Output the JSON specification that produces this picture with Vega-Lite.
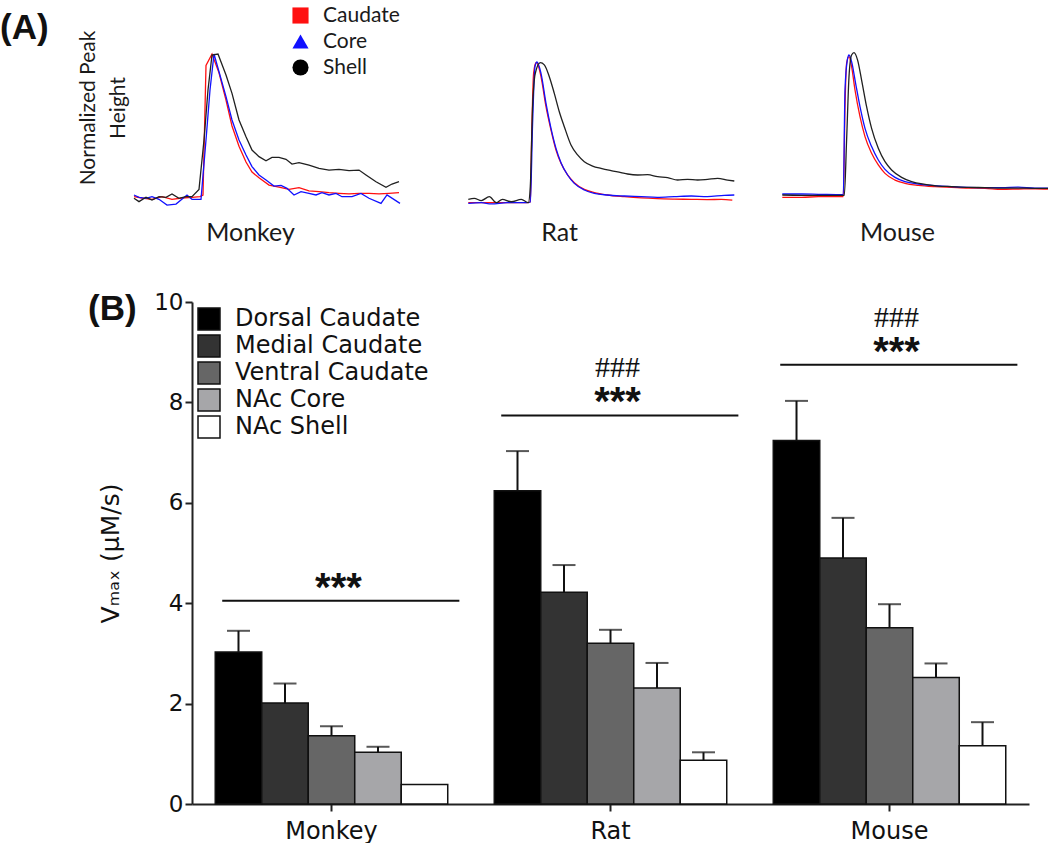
{
  "$schema": "https://vega.github.io/schema/vega-lite/v6.json",
  "background": "white",
  "padding": {"left": 0, "top": 5, "right": 0, "bottom": 0},
  "title": {"text": "(A)", "anchor": "start", "frame": "bounds", "font": "Liberation Sans", "fontSize": 35, "fontWeight": "bold", "color": "#111111", "offset": -41, "dx": -77},
  "datasets": {
    "traces": [
      {"species":"Monkey","region":"Caudate","t":0,"y":0.01},{"species":"Monkey","region":"Caudate","t":8,"y":0},{"species":"Monkey","region":"Caudate","t":18,"y":-0.01},{"species":"Monkey","region":"Caudate","t":28,"y":0.01},{"species":"Monkey","region":"Caudate","t":38,"y":-0.01},{"species":"Monkey","region":"Caudate","t":48,"y":0},{"species":"Monkey","region":"Caudate","t":58,"y":0.005},{"species":"Monkey","region":"Caudate","t":66,"y":0.01},{"species":"Monkey","region":"Caudate","t":69,"y":0.02},{"species":"Monkey","region":"Caudate","t":72,"y":0.92},{"species":"Monkey","region":"Caudate","t":78,"y":1.0},{"species":"Monkey","region":"Caudate","t":85,"y":0.87},{"species":"Monkey","region":"Caudate","t":92,"y":0.68},{"species":"Monkey","region":"Caudate","t":98,"y":0.5},{"species":"Monkey","region":"Caudate","t":105,"y":0.36},{"species":"Monkey","region":"Caudate","t":112,"y":0.25},{"species":"Monkey","region":"Caudate","t":118,"y":0.18},{"species":"Monkey","region":"Caudate","t":125,"y":0.14},{"species":"Monkey","region":"Caudate","t":135,"y":0.09},{"species":"Monkey","region":"Caudate","t":145,"y":0.075},{"species":"Monkey","region":"Caudate","t":155,"y":0.06},{"species":"Monkey","region":"Caudate","t":165,"y":0.072},{"species":"Monkey","region":"Caudate","t":175,"y":0.05},{"species":"Monkey","region":"Caudate","t":185,"y":0.045},{"species":"Monkey","region":"Caudate","t":195,"y":0.037},{"species":"Monkey","region":"Caudate","t":205,"y":0.032},{"species":"Monkey","region":"Caudate","t":215,"y":0.028},{"species":"Monkey","region":"Caudate","t":225,"y":0.032},{"species":"Monkey","region":"Caudate","t":235,"y":0.032},{"species":"Monkey","region":"Caudate","t":245,"y":0.028},{"species":"Monkey","region":"Caudate","t":255,"y":0.032},{"species":"Monkey","region":"Caudate","t":265,"y":0.037},
      {"species":"Monkey","region":"Core","t":0,"y":0.021},{"species":"Monkey","region":"Core","t":5,"y":0.005},{"species":"Monkey","region":"Core","t":12,"y":-0.002},{"species":"Monkey","region":"Core","t":18,"y":0.009},{"species":"Monkey","region":"Core","t":25,"y":-0.009},{"species":"Monkey","region":"Core","t":33,"y":-0.049},{"species":"Monkey","region":"Core","t":42,"y":-0.042},{"species":"Monkey","region":"Core","t":53,"y":0.021},{"species":"Monkey","region":"Core","t":58,"y":-0.009},{"species":"Monkey","region":"Core","t":67,"y":-0.009},{"species":"Monkey","region":"Core","t":72,"y":0.403},{"species":"Monkey","region":"Core","t":76,"y":0.75},{"species":"Monkey","region":"Core","t":80,"y":1.0},{"species":"Monkey","region":"Core","t":85,"y":0.877},{"species":"Monkey","region":"Core","t":92,"y":0.704},{"species":"Monkey","region":"Core","t":98,"y":0.542},{"species":"Monkey","region":"Core","t":105,"y":0.403},{"species":"Monkey","region":"Core","t":112,"y":0.299},{"species":"Monkey","region":"Core","t":118,"y":0.218},{"species":"Monkey","region":"Core","t":125,"y":0.16},{"species":"Monkey","region":"Core","t":132,"y":0.125},{"species":"Monkey","region":"Core","t":140,"y":0.083},{"species":"Monkey","region":"Core","t":147,"y":0.088},{"species":"Monkey","region":"Core","t":153,"y":0.067},{"species":"Monkey","region":"Core","t":160,"y":0.021},{"species":"Monkey","region":"Core","t":167,"y":0.044},{"species":"Monkey","region":"Core","t":175,"y":0.032},{"species":"Monkey","region":"Core","t":182,"y":0.021},{"species":"Monkey","region":"Core","t":188,"y":0.037},{"species":"Monkey","region":"Core","t":195,"y":0.021},{"species":"Monkey","region":"Core","t":202,"y":0.032},{"species":"Monkey","region":"Core","t":208,"y":0.009},{"species":"Monkey","region":"Core","t":218,"y":0.009},{"species":"Monkey","region":"Core","t":227,"y":0.032},{"species":"Monkey","region":"Core","t":235,"y":-0.002},{"species":"Monkey","region":"Core","t":247,"y":-0.037},{"species":"Monkey","region":"Core","t":253,"y":0.021},{"species":"Monkey","region":"Core","t":266,"y":-0.037},
      {"species":"Monkey","region":"Shell","t":0,"y":-0.002},{"species":"Monkey","region":"Shell","t":5,"y":-0.025},{"species":"Monkey","region":"Shell","t":12,"y":0.005},{"species":"Monkey","region":"Shell","t":18,"y":-0.014},{"species":"Monkey","region":"Shell","t":25,"y":0.009},{"species":"Monkey","region":"Shell","t":32,"y":0.005},{"species":"Monkey","region":"Shell","t":38,"y":0.028},{"species":"Monkey","region":"Shell","t":45,"y":-0.002},{"species":"Monkey","region":"Shell","t":52,"y":0.009},{"species":"Monkey","region":"Shell","t":58,"y":0.009},{"species":"Monkey","region":"Shell","t":65,"y":0.06},{"species":"Monkey","region":"Shell","t":70,"y":0.403},{"species":"Monkey","region":"Shell","t":74,"y":0.75},{"species":"Monkey","region":"Shell","t":78,"y":0.993},{"species":"Monkey","region":"Shell","t":84,"y":1.0},{"species":"Monkey","region":"Shell","t":92,"y":0.854},{"species":"Monkey","region":"Shell","t":98,"y":0.727},{"species":"Monkey","region":"Shell","t":105,"y":0.542},{"species":"Monkey","region":"Shell","t":112,"y":0.426},{"species":"Monkey","region":"Shell","t":118,"y":0.333},{"species":"Monkey","region":"Shell","t":125,"y":0.287},{"species":"Monkey","region":"Shell","t":132,"y":0.259},{"species":"Monkey","region":"Shell","t":138,"y":0.282},{"species":"Monkey","region":"Shell","t":145,"y":0.282},{"species":"Monkey","region":"Shell","t":152,"y":0.269},{"species":"Monkey","region":"Shell","t":158,"y":0.236},{"species":"Monkey","region":"Shell","t":165,"y":0.245},{"species":"Monkey","region":"Shell","t":175,"y":0.229},{"species":"Monkey","region":"Shell","t":185,"y":0.206},{"species":"Monkey","region":"Shell","t":195,"y":0.194},{"species":"Monkey","region":"Shell","t":205,"y":0.199},{"species":"Monkey","region":"Shell","t":215,"y":0.19},{"species":"Monkey","region":"Shell","t":225,"y":0.194},{"species":"Monkey","region":"Shell","t":232,"y":0.16},{"species":"Monkey","region":"Shell","t":242,"y":0.113},{"species":"Monkey","region":"Shell","t":252,"y":0.074},{"species":"Monkey","region":"Shell","t":258,"y":0.097},{"species":"Monkey","region":"Shell","t":265,"y":0.113},
      {"species":"Rat","region":"Caudate","t":0,"y":-0.005},{"species":"Rat","region":"Caudate","t":13,"y":-0.005},{"species":"Rat","region":"Caudate","t":29,"y":-0.005},{"species":"Rat","region":"Caudate","t":46,"y":-0.005},{"species":"Rat","region":"Caudate","t":59,"y":-0.005},{"species":"Rat","region":"Caudate","t":62,"y":0},{"species":"Rat","region":"Caudate","t":63.3,"y":0.443},{"species":"Rat","region":"Caudate","t":65.3,"y":0.919},{"species":"Rat","region":"Caudate","t":67.7,"y":0.995},{"species":"Rat","region":"Caudate","t":69.3,"y":0.986},{"species":"Rat","region":"Caudate","t":72.7,"y":0.895},{"species":"Rat","region":"Caudate","t":77.7,"y":0.681},{"species":"Rat","region":"Caudate","t":82.7,"y":0.514},{"species":"Rat","region":"Caudate","t":87.7,"y":0.371},{"species":"Rat","region":"Caudate","t":92.7,"y":0.276},{"species":"Rat","region":"Caudate","t":99.3,"y":0.193},{"species":"Rat","region":"Caudate","t":106,"y":0.138},{"species":"Rat","region":"Caudate","t":116,"y":0.09},{"species":"Rat","region":"Caudate","t":126,"y":0.067},{"species":"Rat","region":"Caudate","t":139,"y":0.05},{"species":"Rat","region":"Caudate","t":156,"y":0.038},{"species":"Rat","region":"Caudate","t":173,"y":0.029},{"species":"Rat","region":"Caudate","t":189,"y":0.024},{"species":"Rat","region":"Caudate","t":206,"y":0.021},{"species":"Rat","region":"Caudate","t":223,"y":0.019},{"species":"Rat","region":"Caudate","t":239,"y":0.017},{"species":"Rat","region":"Caudate","t":253,"y":0.019},{"species":"Rat","region":"Caudate","t":264,"y":0.014},
      {"species":"Rat","region":"Core","t":0,"y":-0.01},{"species":"Rat","region":"Core","t":13,"y":-0.005},{"species":"Rat","region":"Core","t":23,"y":-0.014},{"species":"Rat","region":"Core","t":39,"y":-0.005},{"species":"Rat","region":"Core","t":59,"y":-0.005},{"species":"Rat","region":"Core","t":62,"y":0},{"species":"Rat","region":"Core","t":64.3,"y":0.562},{"species":"Rat","region":"Core","t":66.7,"y":0.967},{"species":"Rat","region":"Core","t":68.7,"y":1.0},{"species":"Rat","region":"Core","t":72.7,"y":0.919},{"species":"Rat","region":"Core","t":77.7,"y":0.705},{"species":"Rat","region":"Core","t":82.7,"y":0.526},{"species":"Rat","region":"Core","t":87.7,"y":0.383},{"species":"Rat","region":"Core","t":92.7,"y":0.281},{"species":"Rat","region":"Core","t":99.3,"y":0.193},{"species":"Rat","region":"Core","t":106,"y":0.133},{"species":"Rat","region":"Core","t":116,"y":0.086},{"species":"Rat","region":"Core","t":126,"y":0.062},{"species":"Rat","region":"Core","t":139,"y":0.05},{"species":"Rat","region":"Core","t":156,"y":0.043},{"species":"Rat","region":"Core","t":173,"y":0.038},{"species":"Rat","region":"Core","t":189,"y":0.033},{"species":"Rat","region":"Core","t":206,"y":0.038},{"species":"Rat","region":"Core","t":223,"y":0.043},{"species":"Rat","region":"Core","t":239,"y":0.038},{"species":"Rat","region":"Core","t":256,"y":0.048},{"species":"Rat","region":"Core","t":266,"y":0.05},
      {"species":"Rat","region":"Shell","t":0,"y":0.019},{"species":"Rat","region":"Shell","t":6,"y":0.026},{"species":"Rat","region":"Shell","t":13,"y":0.01},{"species":"Rat","region":"Shell","t":21,"y":0.038},{"species":"Rat","region":"Shell","t":28,"y":-0.005},{"species":"Rat","region":"Shell","t":34,"y":0.019},{"species":"Rat","region":"Shell","t":43,"y":0.002},{"species":"Rat","region":"Shell","t":53,"y":0.019},{"species":"Rat","region":"Shell","t":60,"y":-0.005},{"species":"Rat","region":"Shell","t":62,"y":0.11},{"species":"Rat","region":"Shell","t":64.3,"y":0.681},{"species":"Rat","region":"Shell","t":67,"y":0.919},{"species":"Rat","region":"Shell","t":72,"y":0.995},{"species":"Rat","region":"Shell","t":76,"y":0.979},{"species":"Rat","region":"Shell","t":81,"y":0.895},{"species":"Rat","region":"Shell","t":86,"y":0.776},{"species":"Rat","region":"Shell","t":91,"y":0.645},{"species":"Rat","region":"Shell","t":96,"y":0.538},{"species":"Rat","region":"Shell","t":102.7,"y":0.407},{"species":"Rat","region":"Shell","t":109.3,"y":0.336},{"species":"Rat","region":"Shell","t":116,"y":0.288},{"species":"Rat","region":"Shell","t":124.3,"y":0.257},{"species":"Rat","region":"Shell","t":132.7,"y":0.24},{"species":"Rat","region":"Shell","t":142.7,"y":0.224},{"species":"Rat","region":"Shell","t":152.7,"y":0.21},{"species":"Rat","region":"Shell","t":159.3,"y":0.2},{"species":"Rat","region":"Shell","t":169.3,"y":0.193},{"species":"Rat","region":"Shell","t":179.3,"y":0.195},{"species":"Rat","region":"Shell","t":189.3,"y":0.181},{"species":"Rat","region":"Shell","t":199.3,"y":0.174},{"species":"Rat","region":"Shell","t":209.3,"y":0.157},{"species":"Rat","region":"Shell","t":219.3,"y":0.162},{"species":"Rat","region":"Shell","t":229.3,"y":0.157},{"species":"Rat","region":"Shell","t":239.3,"y":0.162},{"species":"Rat","region":"Shell","t":249.3,"y":0.169},{"species":"Rat","region":"Shell","t":259.3,"y":0.157},{"species":"Rat","region":"Shell","t":266,"y":0.15},
      {"species":"Mouse","region":"Caudate","t":0,"y":-0.016},{"species":"Mouse","region":"Caudate","t":19.3,"y":-0.016},{"species":"Mouse","region":"Caudate","t":36,"y":-0.012},{"species":"Mouse","region":"Caudate","t":61,"y":-0.012},{"species":"Mouse","region":"Caudate","t":62.7,"y":0.621},{"species":"Mouse","region":"Caudate","t":64.3,"y":0.925},{"species":"Mouse","region":"Caudate","t":66.7,"y":0.972},{"species":"Mouse","region":"Caudate","t":69.3,"y":0.902},{"species":"Mouse","region":"Caudate","t":72.7,"y":0.738},{"species":"Mouse","region":"Caudate","t":77.7,"y":0.55},{"species":"Mouse","region":"Caudate","t":82.7,"y":0.41},{"species":"Mouse","region":"Caudate","t":89.3,"y":0.293},{"species":"Mouse","region":"Caudate","t":96,"y":0.211},{"species":"Mouse","region":"Caudate","t":102.7,"y":0.152},{"species":"Mouse","region":"Caudate","t":112.7,"y":0.105},{"species":"Mouse","region":"Caudate","t":122.7,"y":0.082},{"species":"Mouse","region":"Caudate","t":136,"y":0.068},{"species":"Mouse","region":"Caudate","t":152.7,"y":0.059},{"species":"Mouse","region":"Caudate","t":169.3,"y":0.054},{"species":"Mouse","region":"Caudate","t":186,"y":0.049},{"species":"Mouse","region":"Caudate","t":202.7,"y":0.047},{"species":"Mouse","region":"Caudate","t":219.3,"y":0.04},{"species":"Mouse","region":"Caudate","t":236,"y":0.042},{"species":"Mouse","region":"Caudate","t":252.7,"y":0.044},{"species":"Mouse","region":"Caudate","t":266,"y":0.042},
      {"species":"Mouse","region":"Core","t":0,"y":0.007},{"species":"Mouse","region":"Core","t":19.3,"y":0.007},{"species":"Mouse","region":"Core","t":36,"y":0.005},{"species":"Mouse","region":"Core","t":61,"y":0.002},{"species":"Mouse","region":"Core","t":62.7,"y":0.738},{"species":"Mouse","region":"Core","t":65,"y":0.948},{"species":"Mouse","region":"Core","t":66.7,"y":0.984},{"species":"Mouse","region":"Core","t":69.3,"y":0.937},{"species":"Mouse","region":"Core","t":73.3,"y":0.785},{"species":"Mouse","region":"Core","t":77.7,"y":0.621},{"species":"Mouse","region":"Core","t":82.7,"y":0.468},{"species":"Mouse","region":"Core","t":89.3,"y":0.34},{"species":"Mouse","region":"Core","t":96,"y":0.246},{"species":"Mouse","region":"Core","t":102.7,"y":0.18},{"species":"Mouse","region":"Core","t":112.7,"y":0.124},{"species":"Mouse","region":"Core","t":122.7,"y":0.094},{"species":"Mouse","region":"Core","t":136,"y":0.077},{"species":"Mouse","region":"Core","t":152.7,"y":0.066},{"species":"Mouse","region":"Core","t":169.3,"y":0.059},{"species":"Mouse","region":"Core","t":186,"y":0.054},{"species":"Mouse","region":"Core","t":202.7,"y":0.052},{"species":"Mouse","region":"Core","t":219.3,"y":0.052},{"species":"Mouse","region":"Core","t":236,"y":0.056},{"species":"Mouse","region":"Core","t":252.7,"y":0.049},{"species":"Mouse","region":"Core","t":266,"y":0.049},
      {"species":"Mouse","region":"Shell","t":0,"y":0},{"species":"Mouse","region":"Shell","t":19.3,"y":-0.002},{"species":"Mouse","region":"Shell","t":36,"y":-0.002},{"species":"Mouse","region":"Shell","t":62,"y":-0.002},{"species":"Mouse","region":"Shell","t":64.3,"y":0.386},{"species":"Mouse","region":"Shell","t":66.7,"y":0.831},{"species":"Mouse","region":"Shell","t":69.3,"y":0.984},{"species":"Mouse","region":"Shell","t":71.7,"y":1.0},{"species":"Mouse","region":"Shell","t":75.3,"y":0.948},{"species":"Mouse","region":"Shell","t":79.3,"y":0.808},{"species":"Mouse","region":"Shell","t":84.3,"y":0.621},{"species":"Mouse","region":"Shell","t":89.3,"y":0.468},{"species":"Mouse","region":"Shell","t":96,"y":0.328},{"species":"Mouse","region":"Shell","t":102.7,"y":0.234},{"species":"Mouse","region":"Shell","t":109.3,"y":0.176},{"species":"Mouse","region":"Shell","t":119.3,"y":0.124},{"species":"Mouse","region":"Shell","t":129.3,"y":0.094},{"species":"Mouse","region":"Shell","t":142.7,"y":0.075},{"species":"Mouse","region":"Shell","t":156,"y":0.063},{"species":"Mouse","region":"Shell","t":169.3,"y":0.059},{"species":"Mouse","region":"Shell","t":186,"y":0.054},{"species":"Mouse","region":"Shell","t":202.7,"y":0.052},{"species":"Mouse","region":"Shell","t":219.3,"y":0.049},{"species":"Mouse","region":"Shell","t":236,"y":0.049},{"species":"Mouse","region":"Shell","t":252.7,"y":0.047},{"species":"Mouse","region":"Shell","t":266,"y":0.047}
    ],
    "bars": [
      {"species":"Monkey","area":"Dorsal Caudate","value":3.03,"upper":3.45},
      {"species":"Monkey","area":"Medial Caudate","value":2.01,"upper":2.40},
      {"species":"Monkey","area":"Ventral Caudate","value":1.36,"upper":1.55},
      {"species":"Monkey","area":"NAc Core","value":1.03,"upper":1.14},
      {"species":"Monkey","area":"NAc Shell","value":0.39,"upper":null},
      {"species":"Rat","area":"Dorsal Caudate","value":6.24,"upper":7.03},
      {"species":"Rat","area":"Medial Caudate","value":4.22,"upper":4.76},
      {"species":"Rat","area":"Ventral Caudate","value":3.20,"upper":3.47},
      {"species":"Rat","area":"NAc Core","value":2.31,"upper":2.81},
      {"species":"Rat","area":"NAc Shell","value":0.87,"upper":1.03},
      {"species":"Mouse","area":"Dorsal Caudate","value":7.24,"upper":8.03},
      {"species":"Mouse","area":"Medial Caudate","value":4.90,"upper":5.70},
      {"species":"Mouse","area":"Ventral Caudate","value":3.51,"upper":3.98},
      {"species":"Mouse","area":"NAc Core","value":2.52,"upper":2.80},
      {"species":"Mouse","area":"NAc Shell","value":1.16,"upper":1.63}
    ],
    "sig": [
      {"species":"Monkey","level":4.05,"stars":"***","hash":""},
      {"species":"Rat","level":7.74,"stars":"***","hash":"###"},
      {"species":"Mouse","level":8.75,"stars":"***","hash":"###"}
    ]
  },
  "vconcat": [
    {
      "hconcat": [
        {
          "width": 208, "height": 205,
          "data": {"name": "traces"},
          "transform": [{"filter": "datum.species == 'Monkey'"}],
          "encoding": {
            "x": {"field": "t", "type": "quantitative", "scale": {"domain": [58, 266], "nice": false, "zero": false},
              "axis": {"title": "Monkey", "domain": false, "ticks": false, "labels": false, "grid": false, "titleX": 58, "titleFont": "Lato", "titleFontSize": 25, "titleFontWeight": "normal", "titleColor": "#1a1a1a", "titlePadding": 10}},
            "y": {"field": "y", "type": "quantitative", "scale": {"domain": [-0.0833, 1.3403], "nice": false, "zero": false},
              "axis": {"title": ["Normalized Peak", "Height"], "domain": false, "ticks": false, "labels": false, "grid": false, "titleFont": "Lato", "titleFontSize": 21, "titleFontWeight": "normal", "titleColor": "#1a1a1a", "titleLineHeight": 30, "titlePadding": 64}}
          },
          "layer": [
            {
              "mark": {"type": "line", "strokeWidth": 1.3, "clip": false},
              "encoding": {
                "stroke": {"field": "region", "type": "nominal", "scale": {"domain": ["Caudate", "Core", "Shell"], "range": ["#ff1010", "#1010ff", "#202020"]}, "legend": null}
              }
            },
            {
              "mark": {"type": "point", "filled": true, "opacity": 0},
              "encoding": {
                "color": {"field": "region", "type": "nominal", "scale": {"domain": ["Caudate", "Core", "Shell"], "range": ["#ff1010", "#1010ff", "#000000"]},
                  "legend": {"title": null, "orient": "top-right", "offset": 0, "labelFont": "Lato", "labelFontSize": 21, "labelColor": "#1a1a1a", "symbolSize": 260, "symbolOpacity": 1, "symbolStrokeWidth": 0, "labelOffset": 12, "rowPadding": 4}},
                "shape": {"field": "region", "type": "nominal", "scale": {"domain": ["Caudate", "Core", "Shell"], "range": ["square", "triangle-up", "circle"]},
                  "legend": {"title": null, "orient": "top-right", "offset": 0, "labelFont": "Lato", "labelFontSize": 21, "labelColor": "#1a1a1a", "symbolSize": 260, "symbolOpacity": 1, "symbolStrokeWidth": 0, "labelOffset": 12, "rowPadding": 4}}
              }
            }
          ]
        },
        {
          "width": 293, "height": 205,
          "data": {"name": "traces"},
          "transform": [{"filter": "datum.species == 'Rat'"}],
          "mark": {"type": "line", "strokeWidth": 1.3, "clip": true, "interpolate": "monotone"},
          "encoding": {
            "x": {"field": "t", "type": "quantitative", "scale": {"domain": [-22.3, 270.7], "nice": false, "zero": false},
              "axis": {"title": "Rat", "domain": false, "ticks": false, "labels": false, "grid": false, "titleX": 113, "titleFont": "Lato", "titleFontSize": 25, "titleFontWeight": "normal", "titleColor": "#1a1a1a", "titlePadding": 10}},
            "y": {"field": "y", "type": "quantitative", "scale": {"domain": [-0.0571, 1.4071], "nice": false, "zero": false}, "axis": null},
            "stroke": {"field": "region", "type": "nominal", "scale": {"domain": ["Caudate", "Core", "Shell"], "range": ["#ff1010", "#1010ff", "#202020"]}, "legend": null}
          }
        },
        {
          "width": 266, "height": 205,
          "data": {"name": "traces"},
          "transform": [{"filter": "datum.species == 'Mouse'"}],
          "mark": {"type": "line", "strokeWidth": 1.3, "clip": true, "interpolate": "monotone"},
          "encoding": {
            "x": {"field": "t", "type": "quantitative", "scale": {"domain": [-0.3, 265.7], "nice": false, "zero": false},
              "axis": {"title": "Mouse", "domain": false, "ticks": false, "labels": false, "grid": false, "titleX": 115, "titleFont": "Lato", "titleFontSize": 25, "titleFontWeight": "normal", "titleColor": "#1a1a1a", "titlePadding": 10}},
            "y": {"field": "y", "type": "quantitative", "scale": {"domain": [-0.1054, 1.3352], "nice": false, "zero": false}, "axis": null},
            "stroke": {"field": "region", "type": "nominal", "scale": {"domain": ["Caudate", "Core", "Shell"], "range": ["#ff1010", "#1010ff", "#202020"]}, "legend": null}
          }
        }
      ],
      "spacing": 43,
      "resolve": {"scale": {"color": "independent", "shape": "independent"}}
    },
    {
      "hconcat": [
        {
          "width": 837, "height": 502,
          "title": {"text": "(B)", "anchor": "start", "frame": "group", "dx": -104, "offset": -36, "font": "Liberation Sans", "fontSize": 35, "fontWeight": "bold", "color": "#111111"},
          "layer": [
            {
              "data": {"name": "bars"},
              "mark": {"type": "bar", "stroke": "#111111", "strokeWidth": 1.5},
              "encoding": {
                "x": {"field": "species", "type": "nominal", "sort": ["Monkey", "Rat", "Mouse"],
                  "scale": {"paddingInner": 0.1667, "paddingOuter": 0.0833},
                  "axis": {"title": null, "labelAngle": 0, "labelFont": "DejaVu Sans", "labelFontSize": 24, "labelColor": "#111111", "labelPadding": 8, "domainColor": "#222222", "domainWidth": 2, "tickColor": "#222222", "tickWidth": 2, "tickSize": 7}},
                "xOffset": {"field": "area", "type": "nominal", "sort": ["Dorsal Caudate", "Medial Caudate", "Ventral Caudate", "NAc Core", "NAc Shell"], "scale": {"paddingInner": 0, "paddingOuter": 0}},
                "y": {"field": "value", "type": "quantitative", "scale": {"domain": [0, 10], "nice": false},
                  "axis": {"title": "Vₘₐₓ (μM/s)", "values": [0, 2, 4, 6, 8, 10], "grid": false, "labelFont": "DejaVu Sans", "labelFontSize": 23, "labelColor": "#111111", "labelPadding": 2, "domainColor": "#222222", "domainWidth": 2, "tickColor": "#222222", "tickWidth": 2, "tickSize": 7, "titleFont": "DejaVu Sans", "titleFontSize": 25, "titleFontWeight": "normal", "titleColor": "#111111", "titlePadding": 30}},
                "color": {"field": "area", "type": "nominal", "sort": ["Dorsal Caudate", "Medial Caudate", "Ventral Caudate", "NAc Core", "NAc Shell"],
                  "scale": {"domain": ["Dorsal Caudate", "Medial Caudate", "Ventral Caudate", "NAc Core", "NAc Shell"], "range": ["#000000", "#333333", "#666666", "#a6a6a9", "#ffffff"]},
                  "legend": {"title": null, "orient": "top-left", "offset": 5, "symbolType": "square", "symbolSize": 484, "symbolStrokeColor": "#111111", "symbolStrokeWidth": 1.5, "labelFont": "DejaVu Sans", "labelFontSize": 24, "labelColor": "#111111", "labelOffset": 14, "labelLimit": 400, "rowPadding": -1}}
              }
            },
            {
              "data": {"name": "bars"},
              "transform": [{"filter": "datum.upper != null"}],
              "mark": {"type": "rule", "strokeWidth": 2, "color": "#111111"},
              "encoding": {
                "x": {"field": "species", "type": "nominal", "sort": ["Monkey", "Rat", "Mouse"]},
                "xOffset": {"field": "area", "type": "nominal", "sort": ["Dorsal Caudate", "Medial Caudate", "Ventral Caudate", "NAc Core", "NAc Shell"]},
                "y": {"field": "value", "type": "quantitative"},
                "y2": {"field": "upper"}
              }
            },
            {
              "data": {"name": "bars"},
              "transform": [{"filter": "datum.upper != null"}],
              "mark": {"type": "tick", "thickness": 2, "size": 23, "color": "#111111", "orient": "horizontal"},
              "encoding": {
                "x": {"field": "species", "type": "nominal", "sort": ["Monkey", "Rat", "Mouse"]},
                "xOffset": {"field": "area", "type": "nominal", "sort": ["Dorsal Caudate", "Medial Caudate", "Ventral Caudate", "NAc Core", "NAc Shell"]},
                "y": {"field": "upper", "type": "quantitative"}
              }
            },
            {
              "data": {"name": "sig"},
              "mark": {"type": "rule", "strokeWidth": 2, "color": "#111111"},
              "encoding": {
                "x": {"field": "species", "type": "nominal", "sort": ["Monkey", "Rat", "Mouse"], "bandPosition": 0.03},
                "x2": {"field": "species", "bandPosition": 1.05},
                "y": {"field": "level", "type": "quantitative"}
              }
            },
            {
              "data": {"name": "sig"},
              "mark": {"type": "text", "font": "Liberation Sans", "fontWeight": "bold", "fontSize": 40, "baseline": "alphabetic", "color": "#111111"},
              "encoding": {
                "x": {"field": "species", "type": "nominal", "sort": ["Monkey", "Rat", "Mouse"], "bandPosition": 0.53},
                "y": {"field": "level", "type": "quantitative"},
                "text": {"field": "stars"}
              }
            },
            {
              "data": {"name": "sig"},
              "mark": {"type": "text", "font": "Liberation Serif", "fontSize": 30, "baseline": "alphabetic", "dy": -38, "color": "#111111"},
              "encoding": {
                "x": {"field": "species", "type": "nominal", "sort": ["Monkey", "Rat", "Mouse"], "bandPosition": 0.53},
                "y": {"field": "level", "type": "quantitative"},
                "text": {"field": "hash"}
              }
            }
          ]
        }
      ]
    }
  ],
  "spacing": 46,
  "resolve": {"scale": {"color": "independent", "shape": "independent"}},
  "config": {"view": {"stroke": null}, "axis": {"grid": false}}
}
